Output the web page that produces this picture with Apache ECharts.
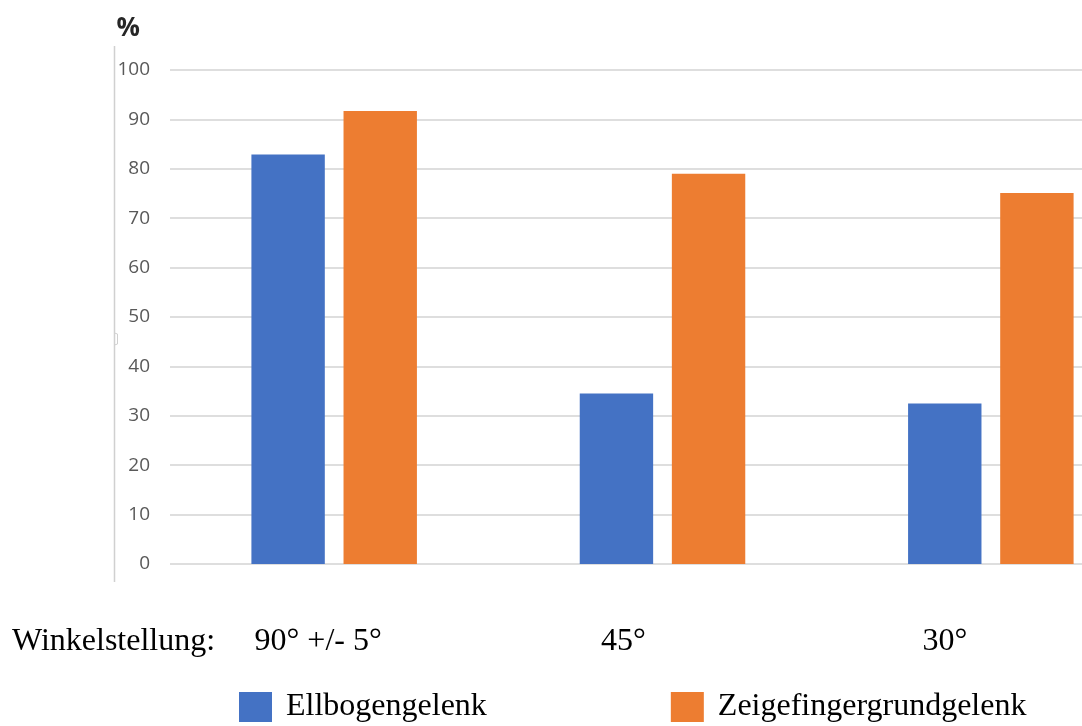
<!DOCTYPE html>
<html>
<head>
<meta charset="utf-8">
<script src="https://cdn.jsdelivr.net/npm/echarts@6/dist/echarts.min.js"></script>
<style>
  html, body { margin: 0; padding: 0; background: #ffffff; overflow: hidden; }
  /* the plot area runs on past the right edge of the window */
  #chart { width: 1160px; height: 726px; }
</style>
</head>
<body>
<div id="chart"></div>
<script>
// Winkelstellungen (categories) and the two measured joints
const categories = ['90° +/- 5°', '45°', '30°'];
const seriesNames = ['Ellbogengelenk', 'Zeigefingergrundgelenk'];
const ellbogen = [82.9, 34.5, 32.5];
const zeigefinger = [91.7, 79.0, 75.1];
const yTicks = { min: 0, max: 100, interval: 10 };
const axisTitle = '%';
const rowTitle = 'Winkelstellung:';

const serif = '"Liberation Serif", "Times New Roman", serif';
const sans = '"Open Sans", "Liberation Sans", sans-serif';

// per-category shift of the label text to the left of the group centre
const labelShift = [32, 78, 92];
const rich = {};
labelShift.forEach((s, i) => {
  rich['c' + i] = { fontFamily: serif, fontSize: 32, color: '#000', padding: [0, s, 0, 0] };
});

const chart = echarts.init(document.getElementById('chart'), null, { renderer: 'canvas' });

chart.setOption({
  animation: false,
  backgroundColor: '#ffffff',
  grid: { left: 170, top: 70, width: 985, height: 494, containLabel: false },
  xAxis: {
    type: 'category',
    data: categories,
    axisLine: { show: false },
    axisTick: { show: false },
    splitLine: { show: false },
    axisLabel: {
      margin: 62,
      interval: 0,
      formatter: (v, i) => '{c' + i + '|' + v + '}',
      rich: rich
    }
  },
  yAxis: {
    type: 'value',
    min: yTicks.min,
    max: yTicks.max,
    interval: yTicks.interval,
    name: axisTitle,
    nameLocation: 'end',
    nameGap: 28,
    nameTextStyle: {
      fontFamily: sans, fontSize: 26, fontWeight: 'bold', color: '#262626',
      align: 'right', padding: [0, 30, 0, 0]
    },
    axisLine: { show: false },
    axisTick: { show: false },
    axisLabel: { margin: 20, fontFamily: sans, fontSize: 19, color: '#595959' },
    splitLine: { lineStyle: { color: '#dedede', width: 2 } }
  },
  legend: {
    left: 239,
    top: 691,
    padding: 0,
    itemWidth: 33,
    itemHeight: 30,
    itemGap: 184,
    icon: 'rect',
    textStyle: { fontFamily: serif, fontSize: 32, color: '#000', padding: [0, 0, 0, 9] },
    data: seriesNames
  },
  series: [
    {
      name: seriesNames[0],
      type: 'bar',
      data: ellbogen,
      barWidth: 73.4,
      barGap: '25.5%',
      itemStyle: { color: '#4472C4' }
    },
    {
      name: seriesNames[1],
      type: 'bar',
      data: zeigefinger,
      barWidth: 73.4,
      barGap: '25.5%',
      itemStyle: { color: '#ED7D31' }
    }
  ],
  graphic: [
    {
      type: 'line',
      shape: { x1: 114.5, y1: 46, x2: 114.5, y2: 582 },
      style: { stroke: '#d0d0d0', lineWidth: 1.5 },
      silent: true
    },
    {
      type: 'polyline',
      shape: { points: [[114.5, 333], [117.5, 334], [117.5, 344], [114.5, 345]] },
      style: { stroke: '#d0d0d0', lineWidth: 1, fill: null },
      silent: true
    },
    {
      type: 'text',
      left: 12,
      top: 626,
      style: { text: rowTitle, font: '32px ' + serif, fill: '#000' },
      silent: true
    }
  ]
});
</script>
</body>
</html>
